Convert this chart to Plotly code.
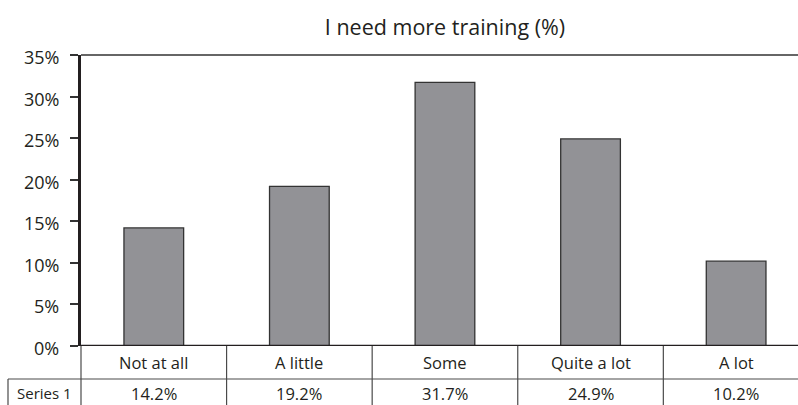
import plotly.graph_objects as go

# Survey responses: "I need more training"
categories = ["Not at all", "A little", "Some", "Quite a lot", "A lot"]
values = [14.2, 19.2, 31.7, 24.9, 10.2]
value_labels = ["14.2%", "19.2%", "31.7%", "24.9%", "10.2%"]
series_name = "Series 1"
y_ticks = [0, 5, 10, 15, 20, 25, 30, 35]
y_tick_labels = ["0%", "5%", "10%", "15%", "20%", "25%", "30%", "35%"]

TEXT = "#231f20"
FONT = "Open Sans"
W, H = 798, 405
M_L, M_R, M_T, M_B = 81, 0, 55, 59

# the last column runs past the right edge of the page
x_range = [-0.5, 4.425]
plot_w = W - M_L - M_R
plot_h = H - M_T - M_B


def px_to_paper_y(py):
    return (H - M_B - py) / plot_h


def x_to_paper(xv):
    return (xv - x_range[0]) / (x_range[1] - x_range[0])


fig = go.Figure()
fig.add_trace(go.Bar(
    x=list(range(len(categories))),
    y=values,
    width=0.41,
    marker=dict(color="#929296", line=dict(color="#333333", width=1.3)),
    hoverinfo="skip",
))

row1_bottom = px_to_paper_y(379)
table_bottom = px_to_paper_y(H)
series_left = -73 / plot_w  # left edge of the "Series 1" header cell

shapes = []
line_gray = dict(color="#4a4a4a", width=1.2)
# column dividers of the data table
for i in range(len(categories)):
    xb = x_to_paper(i + 0.5)
    if xb <= 1:
        shapes.append(dict(type="line", xref="paper", yref="paper",
                           x0=xb, x1=xb, y0=0, y1=table_bottom, line=line_gray))
# table left edge under the y-axis
shapes.append(dict(type="line", xref="paper", yref="paper",
                   x0=0, x1=0, y0=0, y1=table_bottom, line=line_gray))
# row divider between category names and values
shapes.append(dict(type="line", xref="paper", yref="paper",
                   x0=series_left, x1=1, y0=row1_bottom, y1=row1_bottom, line=line_gray))
# left edge of the series header cell
shapes.append(dict(type="line", xref="paper", yref="paper",
                   x0=series_left, x1=series_left, y0=row1_bottom, y1=table_bottom,
                   line=line_gray))
# top border of the plot at 35%
shapes.append(dict(type="line", xref="paper", yref="paper",
                   x0=0, x1=1, y0=1, y1=1, line=dict(color="#333333", width=1.6)))

annotations = []
row1_mid = px_to_paper_y(362)
row2_mid = px_to_paper_y(393)
cell_font = dict(family=FONT, size=16.5, color=TEXT)
for i, (cat, lab) in enumerate(zip(categories, value_labels)):
    xc = x_to_paper(i)
    annotations.append(dict(x=xc, y=row1_mid, xref="paper", yref="paper",
                            xanchor="center", yanchor="middle",
                            text=cat, showarrow=False, font=cell_font))
    annotations.append(dict(x=xc, y=row2_mid, xref="paper", yref="paper",
                            xanchor="center", yanchor="middle",
                            text=lab, showarrow=False, font=cell_font))
annotations.append(dict(x=series_left / 2, y=row2_mid, xref="paper", yref="paper",
                        xanchor="center", yanchor="middle",
                        text=series_name, showarrow=False,
                        font=dict(family=FONT, size=15, color=TEXT)))

# y tick labels, set a little further away from the tick marks
for tv, tl in zip(y_ticks, y_tick_labels):
    annotations.append(dict(x=0, y=tv, xref="paper", yref="y",
                            xanchor="right", yanchor="middle",
                            xshift=-20, yshift=-2,
                            text=tl, showarrow=False,
                            font=dict(family=FONT, size=18, color=TEXT)))

fig.update_layout(
    width=W, height=H,
    margin=dict(l=M_L, r=M_R, t=M_T, b=M_B),
    paper_bgcolor="white", plot_bgcolor="white",
    showlegend=False,
    title=dict(text="I need more training (%)",
               x=x_to_paper(2), xref="paper", xanchor="center",
               y=1 - 27 / H, yref="container", yanchor="middle",
               font=dict(family=FONT, size=21.5, color=TEXT)),
    xaxis=dict(range=x_range, showticklabels=False, ticks="", showgrid=False,
               zeroline=False, showline=False, fixedrange=True),
    yaxis=dict(range=[0, 35], tickvals=y_ticks, showticklabels=False,
               ticks="outside", ticklen=8, tickwidth=1.5, tickcolor="#333333",
               showgrid=False, zeroline=False,
               showline=True, linecolor="#231f20", linewidth=2.5,
               fixedrange=True),
    shapes=shapes,
    annotations=annotations,
)
# 0% baseline
fig.add_hline(y=0, line=dict(color="#231f20", width=2.5))

fig.write_html("out.html")
